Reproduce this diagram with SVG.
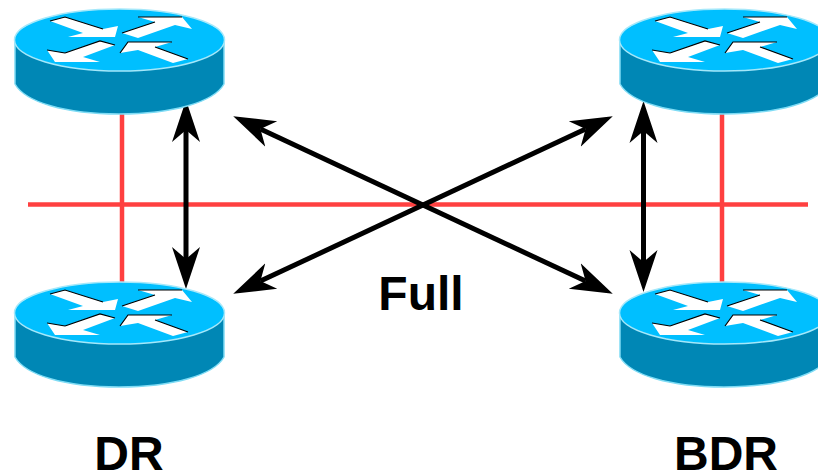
<svg xmlns="http://www.w3.org/2000/svg" width="818" height="471" viewBox="0 0 818 471">
<style>
.net{stroke:#ff4040;stroke-width:4.500;fill:none}
.link{stroke:#000;stroke-width:5;fill:none;marker-start:url(#head);marker-end:url(#head)}
.body{fill:#0087b5;stroke:#7fdcf5;stroke-width:1.5}
.top{fill:#00bfff;stroke:#a5e8fa;stroke-width:1.5}
.arr{fill:#fff}
.edge{stroke:#000;stroke-width:1.2;fill:none}
text{font-family:"Liberation Sans",Arial,sans-serif;font-weight:700;font-size:48px;fill:#000}
</style>
<defs>
<marker id="head" markerUnits="userSpaceOnUse" markerWidth="44" markerHeight="30" refX="12" refY="15" orient="auto-start-reverse">
<path d="M0 1 L42 15 L0 29 L12 15 Z" fill="#000"/>
</marker>
<g id="router">
<path class="body" d="M15 40 V84 C25 102 65 114 119 114 C173 114 214 102 224 84 V40 Z"/>
<ellipse class="top" cx="119.500" cy="40" rx="105" ry="31"/>
<path class="arr" d="M50 21 L65 17 L103 29 L118 26 L115 37 L68 37 L83 33 Z"/>
<path class="arr" d="M122 33 L155 22 L138 17 L182 17 L192 29 L175 25 L138 38 Z"/>
<path class="arr" d="M115 45 L100 41 L65 53 L47 50 L55 62 L100 62 L83 57 Z"/>
<path class="arr" d="M120 53 L128 42 L172 42 L155 47 L188 59 L173 63 L138 50 Z"/>
<path class="edge" d="M50 21 L65 17 L103 29 M122 33 L155 22 M138 17 L182 17 M65 53 L100 41 L115 45 M47 50 L65 53 M120 53 L128 42 L172 42 M155 47 L188 59"/>
</g>
</defs>
<g id="connectors">
<path class="net" d="M28 204.500 H808"/>
<path class="net" d="M122 112 V284"/>
<path class="net" d="M722 112 V284"/>
<path class="link" d="M186 130 V259"/>
<path class="link" d="M643.500 131 V262"/>
<path class="link" d="M260.400 128.900 L585.600 281.100"/>
<path class="link" d="M260.400 281.100 L585.600 128.900"/>
</g>
<g id="router-dr-top"><use href="#router"/></g>
<g id="router-bdr-top"><use href="#router" x="605"/></g>
<g id="router-dr-bottom"><use href="#router" y="273"/></g>
<g id="router-bdr-bottom"><use href="#router" x="605" y="273"/></g>
<g id="label-full"><text x="421" y="309.500" text-anchor="middle">Full</text></g>
<g id="label-dr"><text x="129" y="470" text-anchor="middle">DR</text></g>
<g id="label-bdr"><text x="726" y="470" text-anchor="middle">BDR</text></g>
</svg>
